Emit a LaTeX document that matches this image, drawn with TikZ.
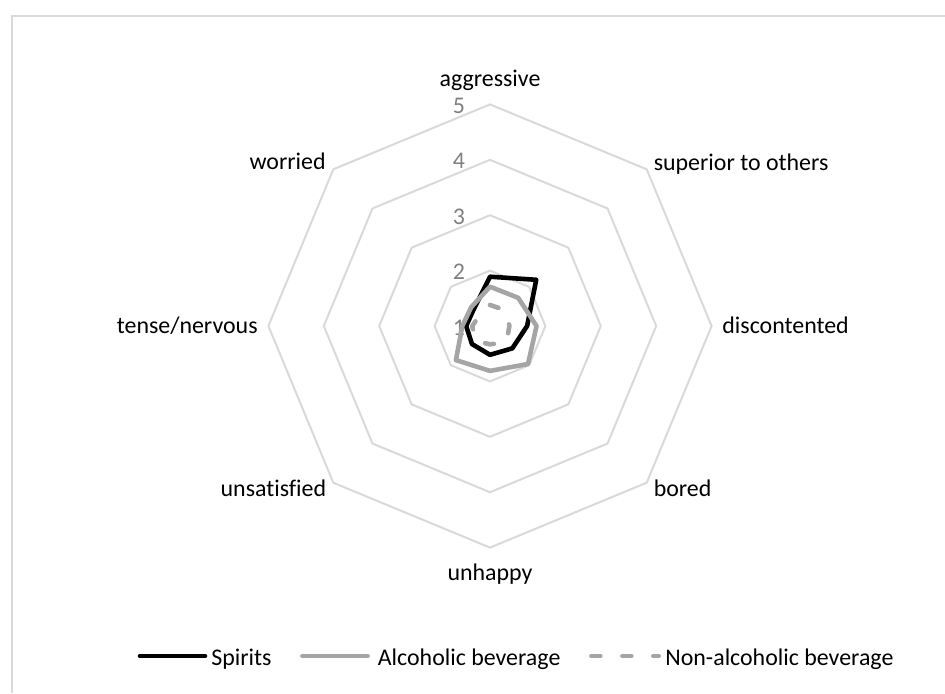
\documentclass[tikz,border=0pt]{standalone}
\usepackage{fontspec}
\setmainfont{Carlito}[Ligatures=NoCommon]
\usetikzlibrary{calc,positioning}
\definecolor{ringgray}{HTML}{D9D9D9}
\definecolor{tickgray}{HTML}{808080}
\definecolor{drinkgray}{HTML}{A5A5A5}
\tikzset{
  ring/.style={draw=ringgray,line width=1pt,line join=round},
  catlabel/.style={inner sep=0pt,font=\fontsize{11.95}{14}\selectfont},
  ticklabel/.style={catlabel,text=tickgray},
  spirits/.style={draw=black,line width=2.3pt,line join=round,line cap=round},
  alcoholic/.style={spirits,draw=drinkgray},
  nonalcoholic/.style={alcoholic,dash pattern=on 4.5pt off 11pt}
}
\newcommand{\unitr}{27.7pt}

\begin{document}
\begin{tikzpicture}
\useasboundingbox (-245pt,-183.5pt) rectangle (227.5pt,163pt);
\draw[ringgray,line width=0.75pt] (-239pt,-183.5pt) -- (-239pt,155pt) -- (227.5pt,155pt);
\coordinate (O) at (0,0);
\foreach \v in {2,...,5}
  \draw[ring] (90:{(\v-1)*\unitr}) \foreach \a in {45,0,...,-225}{ -- (\a:{(\v-1)*\unitr}) } -- cycle;
\foreach \v in {1,...,5}
  \node[ticklabel] (tick\v) at (-15.5pt,{(\v-1)*\unitr-0.75pt}) {\v};

\node[catlabel,anchor=base] (aggressive) at (0,120pt) {aggressive};
\node[catlabel,anchor=base west] (superior) at (81.7pt,77.8pt) {superior to others};
\node[catlabel,anchor=base west] (discontented) at (116pt,-3.5pt) {discontented};
\node[catlabel,anchor=base west] (bored) at (81.7pt,-85.3pt) {bored};
\node[catlabel,anchor=base] (unhappy) at (0,-127pt) {unhappy};
\node[catlabel,anchor=base east] (unsatisfied) at (-81.7pt,-85.3pt) {unsatisfied};
\node[catlabel,anchor=base east] (tense) at (-116pt,-3.5pt) {tense/nervous};
\node[catlabel,anchor=base east] (worried) at (-82pt,78.3pt) {worried};

\foreach \v [count=\i] in {1.89,2.18,1.67,1.57,1.52,1.46,1.43,1.42}
  \coordinate (sp\i) at ({135-45*\i}:{(\v-1)*\unitr});
\foreach \v [count=\i] in {1.71,1.72,1.84,1.97,1.81,1.87,1.5,1.48}
  \coordinate (al\i) at ({135-45*\i}:{(\v-1)*\unitr});
\foreach \v [count=\i] in {1.38,1.40,1.35,1.42,1.33,1.38,1.32,1.27}
  \coordinate (na\i) at ({135-45*\i}:{(\v-1)*\unitr});
\draw[spirits] (sp1) \foreach \i in {2,...,8}{ -- (sp\i) } -- cycle;
\draw[alcoholic] (al1) \foreach \i in {2,...,8}{ -- (al\i) } -- cycle;
\draw[nonalcoholic] (na1) \foreach \i in {2,...,8}{ -- (na\i) } -- cycle;

\coordinate (spkey) at (-175pt,-165pt);
\coordinate (spkeyend) at (-142.5pt,-165pt);
\draw[spirits] (spkey) -- (spkeyend);
\node[catlabel,anchor=base west] (spiritskey) at (-139.5pt,-169.5pt) {Spirits};
\coordinate (alkey) at (-93.8pt,-165pt);
\coordinate (alkeyend) at (-61.2pt,-165pt);
\draw[alcoholic] (alkey) -- (alkeyend);
\node[catlabel,anchor=base west] (alcoholickey) at (-56.25pt,-169.5pt) {Alcoholic beverage};
\coordinate (nakey) at (50.7pt,-165pt);
\coordinate (nakeyend) at (84.3pt,-165pt);
\draw[nonalcoholic] (nakey) -- (nakeyend);
\node[catlabel,anchor=base west] (nonalcoholickey) at (87.5pt,-169.5pt) {Non-alcoholic beverage};
\end{tikzpicture}
\end{document}
